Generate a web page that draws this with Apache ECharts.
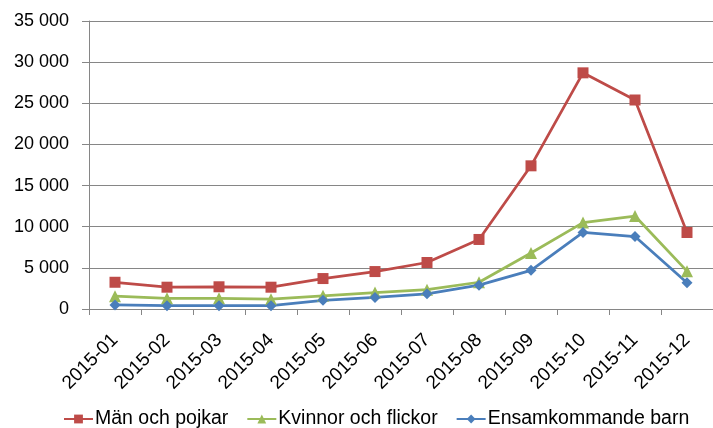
<!DOCTYPE html>
<html>
<head>
<meta charset="utf-8">
<script src="https://cdn.jsdelivr.net/npm/echarts@6/dist/echarts.min.js"></script>
<style>
  html, body { margin: 0; padding: 0; background: #fff; }
  #chart { width: 713px; height: 428px; }
</style>
</head>
<body>
<div id="chart"></div>
<script>
const months = ["2015-01", "2015-02", "2015-03", "2015-04", "2015-05", "2015-06",
  "2015-07", "2015-08", "2015-09", "2015-10", "2015-11", "2015-12"];
const menBoys = [3250, 2650, 2700, 2650, 3700, 4550, 5650, 8450, 17400, 28700, 25400, 9300];
const womenGirls = [1550, 1300, 1300, 1200, 1600, 2000, 2350, 3250, 6800, 10500, 11300, 4600];
const unaccompanied = [500, 400, 400, 400, 1050, 1400, 1850, 2900, 4700, 9300, 8800, 3200];
const seriesNames = ["Män och pojkar", "Kvinnor och flickor", "Ensamkommande barn"];

const font = "Liberation Sans";
const grey = "#868686";

function spaced(v) {
  return String(v).replace(/\B(?=(\d{3})+(?!\d))/g, " ");
}

function lineSeries(name, data, color, symbol, size) {
  return {
    name: name,
    type: "line",
    data: data,
    symbol: symbol,
    symbolSize: size,
    showAllSymbol: true,
    lineStyle: { color: color, width: 2.75 },
    itemStyle: { color: color },
    emphasis: { disabled: true },
    animation: false
  };
}

const chart = echarts.init(document.getElementById("chart"));
chart.setOption({
  animation: false,
  grid: { left: 89, right: -8, top: 21, bottom: 119, containLabel: false },
  legend: {
    left: 58,
    top: 404,
    itemWidth: 29,
    itemHeight: 11,
    itemGap: 18,
    textStyle: { fontFamily: font, fontSize: 19.5, color: "#000", padding: [0, 0, 0, -3] },
    data: seriesNames
  },
  xAxis: {
    type: "category",
    data: months,
    boundaryGap: true,
    axisLine: { lineStyle: { color: grey, width: 1 } },
    axisTick: { show: true, length: 6, alignWithLabel: false, lineStyle: { color: grey } },
    axisLabel: { rotate: 45, margin: 28, fontFamily: font, fontSize: 19, color: "#000", interval: 0 }
  },
  yAxis: {
    type: "value",
    min: 0,
    max: 35000,
    interval: 5000,
    axisLine: { show: true, lineStyle: { color: grey, width: 1 } },
    axisTick: { show: true, length: 7, lineStyle: { color: grey } },
    splitLine: { lineStyle: { color: grey, width: 1 } },
    axisLabel: { margin: 20, fontFamily: font, fontSize: 18, color: "#000", formatter: spaced }
  },
  series: [
    lineSeries(seriesNames[0], menBoys, "#BE4B48", "rect", 11),
    lineSeries(seriesNames[1], womenGirls, "#9BBB59", "triangle", 12),
    lineSeries(seriesNames[2], unaccompanied, "#4A7EBB", "diamond", 11)
  ]
});
</script>
</body>
</html>
